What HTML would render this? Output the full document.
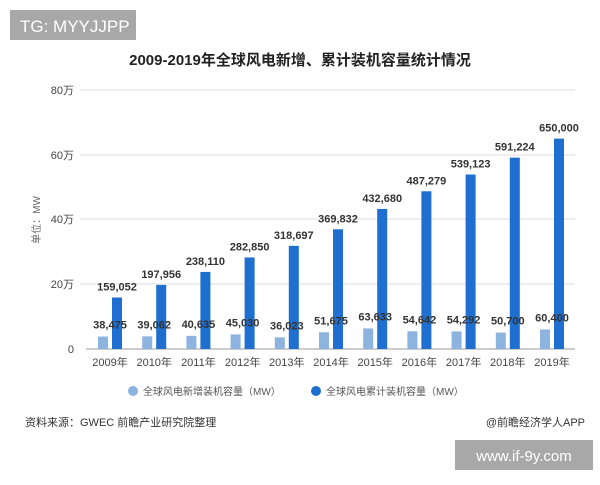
<!DOCTYPE html><html><head><meta charset="utf-8"><style>
body{margin:0;width:600px;height:480px;background:#fff;overflow:hidden;font-family:"Liberation Sans","Noto Sans CJK SC",sans-serif}
</style></head><body>
<svg width="600" height="480" xmlns="http://www.w3.org/2000/svg" font-family="Liberation Sans, Noto Sans CJK SC, sans-serif">
<rect x="10" y="10" width="126" height="30" fill="#a8a8a8"/>
<text x="20" y="32" font-size="17" fill="#fff">TG: MYYJJPP</text>
<text x="300" y="65" font-size="15" font-weight="bold" fill="#222" text-anchor="middle">2009-2019年全球风电新增、累计装机容量统计情况</text>
<g stroke="#ddd" stroke-width="1">
<line x1="80" y1="90" x2="575" y2="90"/><line x1="80" y1="155" x2="575" y2="155"/><line x1="80" y1="219" x2="575" y2="219"/><line x1="80" y1="284" x2="575" y2="284"/>
</g>
<line x1="86" y1="349" x2="575" y2="349" stroke="#999"/>
<g font-size="11" fill="#444" text-anchor="end">
<text x="74" y="94">80万</text><text x="74" y="159">60万</text><text x="74" y="223">40万</text><text x="74" y="288">20万</text><text x="74" y="353">0</text>
</g>
<text transform="translate(40,220) rotate(-90)" font-size="10" fill="#666" text-anchor="middle">单位：MW</text>
<g id="bars"></g>
<g font-size="10" fill="#555">
<circle cx="133" cy="391" r="5" fill="#8db3df"/><text x="143" y="395">全球风电新增装机容量（MW）</text>
<circle cx="316" cy="391" r="5" fill="#1f6fd0"/><text x="326" y="395">全球风电累计装机容量（MW）</text>
</g>
<text x="25" y="426" font-size="11" fill="#333">资料来源：GWEC 前瞻产业研究院整理</text>
<text x="585" y="426" font-size="11" fill="#333" text-anchor="end">@前瞻经济学人APP</text>
<rect x="455" y="440" width="138" height="30" fill="#a8a8a8"/>
<text x="524" y="461" font-size="15" fill="#fff" text-anchor="middle">www.if-9y.com</text>
</svg>
<script>
var n=[38475,39062,40635,45030,36023,51675,63633,54642,54292,50700,60400];
var c=[159052,197956,238110,282850,318697,369832,432680,487279,539123,591224,650000];
var g=document.getElementById('bars'),s='';
function f(v){return v.toString().replace(/\B(?=(\d{3})+(?!\d))/g,',');}
for(var i=0;i<11;i++){var x=110+i*44.2,k=0.0003237;
var hn=n[i]*k,hc=c[i]*k;
s+='<rect x="'+(x-12)+'" y="'+(349-hn)+'" width="10" height="'+hn+'" fill="#8db3df"/>';
s+='<rect x="'+(x+2)+'" y="'+(349-hc)+'" width="10" height="'+hc+'" fill="#1f6fd0"/>';
s+='<text x="'+(x+7)+'" y="'+(349-hc-7)+'" font-size="11" font-weight="bold" fill="#333" text-anchor="middle">'+f(c[i])+'</text>';
s+='<text x="'+x+'" y="'+(349-hn-8)+'" font-size="11" font-weight="bold" fill="#333" text-anchor="middle">'+f(n[i])+'</text>';
s+='<text x="'+x+'" y="366" font-size="11" fill="#444" text-anchor="middle">'+(2009+i)+'年</text>';}
g.innerHTML=s;
</script>
</body></html>
